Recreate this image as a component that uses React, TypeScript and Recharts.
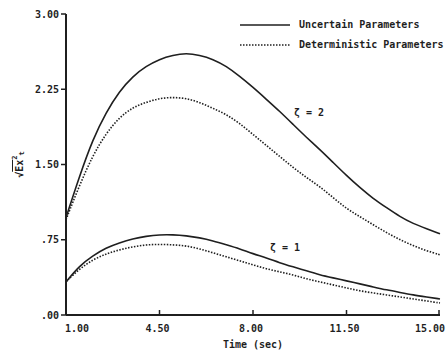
import { Legend, Line, LineChart, ReferenceDot, XAxis, YAxis } from "recharts";

const MONO = "'DejaVu Sans Mono', monospace";
const INK = "#1f1f1f";

// time axis, 0.5 s steps
const time = [
  1, 1.5, 2, 2.5, 3, 3.5, 4, 4.5, 5, 5.5, 6, 6.5, 7, 7.5, 8, 8.5, 9, 9.5, 10,
  10.5, 11, 11.5, 12, 12.5, 13, 13.5, 14, 14.5, 15,
];

const uncertainZeta2 = [
  0.97, 1.38, 1.75, 2.02, 2.23, 2.38, 2.48, 2.55, 2.59, 2.61, 2.59, 2.55, 2.48,
  2.38, 2.27, 2.15, 2.03, 1.9, 1.77, 1.65, 1.52, 1.39, 1.27, 1.16, 1.07, 0.98,
  0.91, 0.86, 0.81,
];
const deterministicZeta2 = [
  0.95, 1.29, 1.59, 1.81, 1.97, 2.07, 2.12, 2.16, 2.17, 2.16, 2.12, 2.06, 2.0,
  1.91, 1.8, 1.69, 1.58, 1.47, 1.37, 1.28, 1.17, 1.06, 0.98, 0.9, 0.82, 0.75,
  0.69, 0.64, 0.6,
];
const uncertainZeta1 = [
  0.33, 0.49, 0.59, 0.67, 0.72, 0.76, 0.785, 0.8, 0.8, 0.79, 0.77, 0.74, 0.7,
  0.66, 0.61, 0.57, 0.52, 0.48, 0.44, 0.4, 0.37, 0.34, 0.31, 0.28, 0.25, 0.225,
  0.2, 0.18, 0.16,
];
const deterministicZeta1 = [
  0.33, 0.46, 0.55, 0.61, 0.65, 0.68, 0.7, 0.705, 0.7, 0.69, 0.66, 0.62, 0.58,
  0.54, 0.5, 0.46, 0.43, 0.4, 0.36, 0.33, 0.3, 0.27, 0.24, 0.22, 0.2, 0.18,
  0.16, 0.14, 0.12,
];

const xTicks = [1, 4.5, 8, 11.5, 15];
const yTicks = [0, 0.75, 1.5, 2.25, 3];

const legendItems = [
  { label: "Uncertain Parameters", dash: undefined },
  { label: "Deterministic Parameters", dash: "1.5 1.5" },
];

const rows = time.map((t, i) => ({
  t,
  u2: uncertainZeta2[i],
  d2: deterministicZeta2[i],
  u1: uncertainZeta1[i],
  d1: deterministicZeta1[i],
}));

const formatY = (v: number) => (v < 1 ? v.toFixed(2).replace(/^0/, "") : v.toFixed(2));

function XTick({ x, y, payload, index }: any) {
  // first and last labels are pushed inward, as in the original plot
  const anchor = index === 0 ? "start" : index === xTicks.length - 1 ? "end" : "middle";
  const dx = index === 0 ? -1 : index === xTicks.length - 1 ? 6 : -2;
  return (
    <g>
      <line x1={x} y1={y} x2={x} y2={y - 5} stroke={INK} strokeWidth={1.5} />
      <text
        x={x + dx}
        y={y + 17}
        textAnchor={anchor}
        fontFamily={MONO}
        fontSize={10}
        fontWeight="bold"
        fill={INK}
      >
        {Number(payload.value).toFixed(2)}
      </text>
    </g>
  );
}

function YLabel({ viewBox }: any) {
  const cx = viewBox.x + 9;
  const cy = viewBox.y + viewBox.height / 2;
  return (
    <text
      x={cx}
      y={cy}
      transform={`rotate(-90, ${cx}, ${cy})`}
      textAnchor="middle"
      dominantBaseline="central"
      fontFamily={MONO}
      fontSize={10}
      fontWeight="bold"
      fill={INK}
    >
      <tspan>√</tspan>
      <tspan textDecoration="overline">Ex</tspan>
      <tspan dy={-4} fontSize={7}>2</tspan>
      <tspan dy={7} fontSize={7}>t</tspan>
    </text>
  );
}

const renderLegend = () => (
  <div
    style={{
      fontFamily: MONO,
      fontSize: 10,
      fontWeight: "bold",
      color: INK,
      lineHeight: "20px",
    }}
  >
    {legendItems.map((item) => (
      <div key={item.label} style={{ display: "flex", alignItems: "center", whiteSpace: "nowrap" }}>
        <svg width={52} height={6}>
          <line
            x1={0}
            y1={3}
            x2={50}
            y2={3}
            stroke={INK}
            strokeWidth={item.dash ? 1.6 : 1.3}
            strokeDasharray={item.dash}
          />
        </svg>
        <span style={{ marginLeft: 7 }}>{item.label}</span>
      </div>
    ))}
  </div>
);

const zetaLabel = (text: string) => ({
  value: text,
  position: "center" as const,
  fontFamily: MONO,
  fontSize: 10,
  fontWeight: "bold",
  fill: INK,
});

export default function App() {
  return (
    <div style={{ position: "absolute", left: 0, top: 0, background: "#fff" }}>
      <LineChart
        width={447}
        height={355}
        data={rows}
        margin={{ top: 14, right: 7, bottom: 0, left: 10 }}
      >
        <XAxis
          dataKey="t"
          type="number"
          domain={[1, 15]}
          ticks={xTicks}
          height={40}
          tickSize={0}
          tickMargin={0}
          tickLine={false}
          tick={<XTick />}
          axisLine={{ stroke: INK, strokeWidth: 2 }}
          label={{
            value: "Time (sec)",
            position: "insideBottom",
            offset: 7,
            fontFamily: MONO,
            fontSize: 10,
            fontWeight: "bold",
            fill: INK,
          }}
        />
        <YAxis
          type="number"
          domain={[0, 3]}
          ticks={yTicks}
          width={56}
          tickFormatter={formatY}
          tickSize={5}
          tickMargin={2}
          tickLine={{ stroke: INK, strokeWidth: 1.5 }}
          axisLine={{ stroke: INK, strokeWidth: 2 }}
          tick={{ fontFamily: MONO, fontSize: 10, fontWeight: "bold", fill: INK }}
          label={<YLabel />}
        />
        <Legend
          layout="horizontal"
          verticalAlign="middle"
          align="center"
          content={renderLegend}
          wrapperStyle={{ left: 240, top: 15, width: 220 }}
        />
        <Line dataKey="u2" type="basis" stroke={INK} strokeWidth={1.6} dot={false} isAnimationActive={false} />
        <Line dataKey="d2" type="basis" stroke={INK} strokeWidth={1.6} strokeDasharray="1.5 1.5" dot={false} isAnimationActive={false} />
        <Line dataKey="u1" type="basis" stroke={INK} strokeWidth={1.6} dot={false} isAnimationActive={false} />
        <Line dataKey="d1" type="basis" stroke={INK} strokeWidth={1.6} strokeDasharray="1.5 1.5" dot={false} isAnimationActive={false} />
        <ReferenceDot x={10.1} y={2.02} r={1} fill="none" stroke="none" label={zetaLabel("ζ = 2")} />
        <ReferenceDot x={9.2} y={0.67} r={1} fill="none" stroke="none" label={zetaLabel("ζ = 1")} />
      </LineChart>
    </div>
  );
}
